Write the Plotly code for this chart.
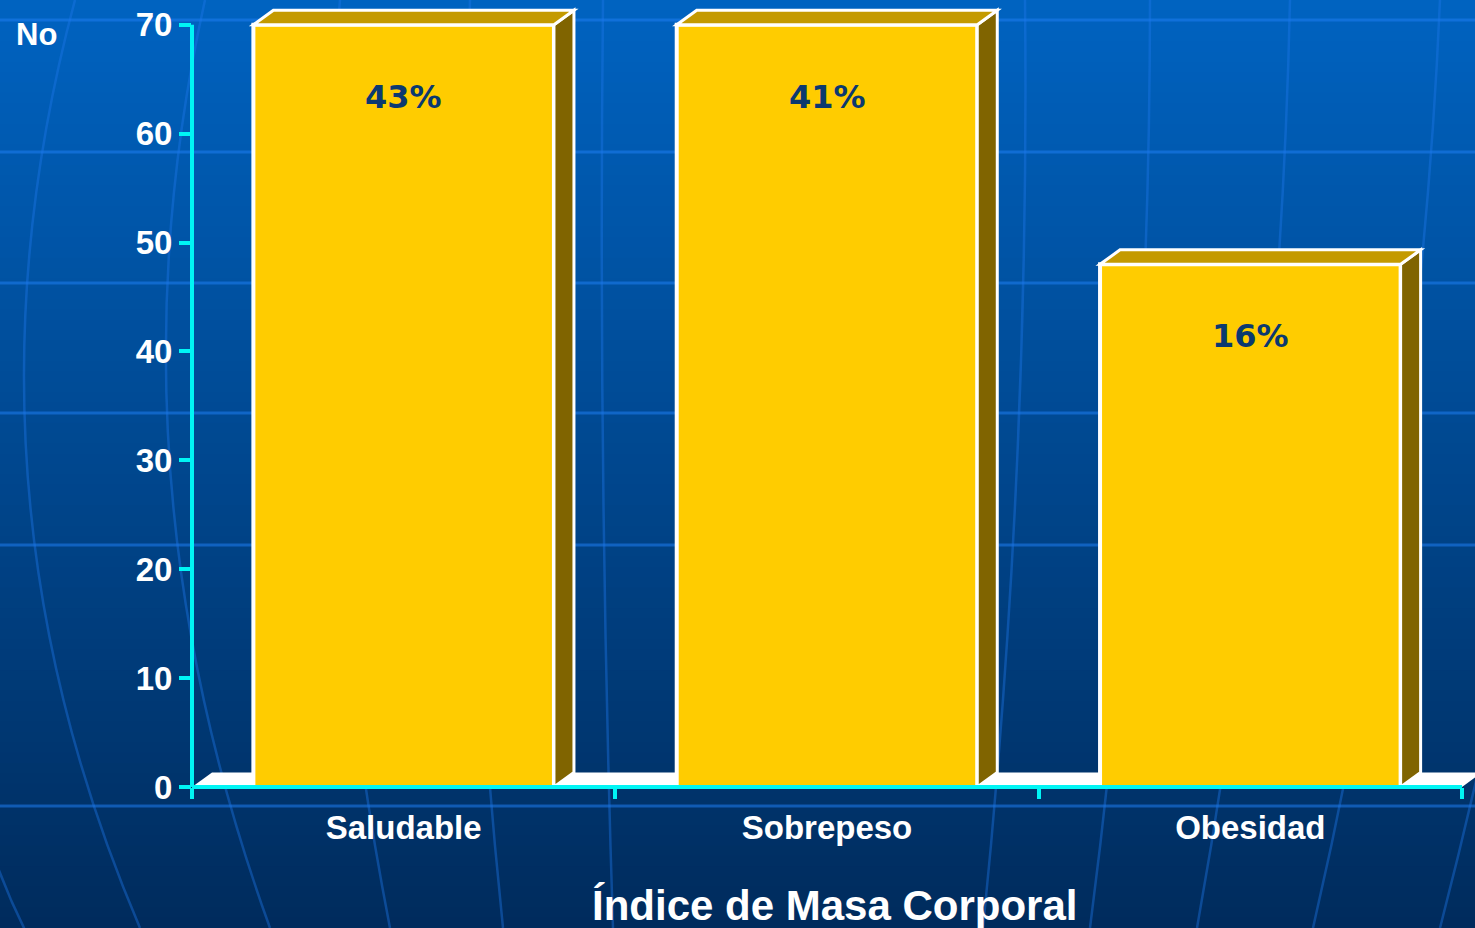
import plotly.graph_objects as go

# ---- data ----
categories = ["Saludable", "Sobrepeso", "Obesidad"]
counts = [70, 70, 48]
percent_labels = ["43%", "41%", "16%"]
y_ticks = [0, 10, 20, 30, 40, 50, 60, 70]
y_axis_title = "No"
x_axis_title = "Índice de Masa Corporal"

# ---- layout geometry (pixels) ----
FIG_W, FIG_H = 1475, 928
M_L, M_R, M_T, M_B = 192, 0, 3, 141
PW = FIG_W - M_L - M_R
PH = FIG_H - M_T - M_B
Y_MAX = 72
X_MIN = -0.5
X_MAX = 2.5 + 13 / (PW / 3.031)
px_per_cat = PW / (X_MAX - X_MIN)
px_per_unit = PH / Y_MAX

BAR_W = 0.71
DEPTH_X = 20 / px_per_cat      # 3D depth offsets in data units
DEPTH_Y = 14.5 / px_per_unit

FRONT = "#FFCC00"
TOPC = "#C49A00"
SIDE = "#806400"
CYAN = "#00F5F5"


def px(x):
    return (x - M_L) / PW


def py(y):
    return (M_T + PH - y) / PH


shapes = []

# background vertical gradient
top_rgb = (0, 99, 193)
bot_rgb = (0, 43, 92)
N = 90
for k in range(N):
    t = (k + 0.5) / N
    c = tuple(int(round(a + (b - a) * t)) for a, b in zip(top_rgb, bot_rgb))
    y0 = FIG_H * k / N
    y1 = FIG_H * (k + 1) / N + 1
    shapes.append(dict(type="rect", xref="paper", yref="paper", layer="below",
                       x0=px(0), x1=px(FIG_W), y0=py(y0), y1=py(y1),
                       fillcolor="rgb(%d,%d,%d)" % c, line=dict(width=0)))

# decorative horizontal lines
for yy in [20, 152, 283, 413, 545, 806]:
    shapes.append(dict(type="line", xref="paper", yref="paper", layer="below",
                       x0=px(0), x1=px(FIG_W), y0=py(yy), y1=py(yy),
                       line=dict(color="rgba(30,125,240,0.55)", width=3)))

# decorative globe meridians (bottom, control, top)
meridians = [
    ((140, 928), (-53, 476), (75, 0)),
    ((270, 928), (102, 464), (205, 0)),
    ((390, 928), (300, 464), (340, 0)),
    ((503, 928), (455, 464), (470, 0)),
    ((613, 928), (598, 464), (603, 0)),
    ((983, 928), (1030, 464), (1025, 0)),
    ((1090, 928), (1150, 464), (1150, 0)),
    ((1197, 928), (1280, 464), (1290, 0)),
    ((1313, 928), (1420, 464), (1440, 0)),
    ((1440, 928), (1560, 464), (1600, 0)),
    ((-10, 845), (5, 890), (25, 930)),
]
for p0, c, p2 in meridians:
    path = "M %f,%f Q %f,%f %f,%f" % (px(p0[0]), py(p0[1]), px(c[0]), py(c[1]),
                                      px(p2[0]), py(p2[1]))
    shapes.append(dict(type="path", xref="paper", yref="paper", layer="below",
                       path=path, line=dict(color="rgba(30,120,235,0.4)", width=2.5)))

# white floor
floor = "M %f,0 L %f,0 L %f,%f L %f,%f Z" % (
    X_MIN, 2.5, 2.5 + DEPTH_X, DEPTH_Y, X_MIN + DEPTH_X, DEPTH_Y)
shapes.append(dict(type="path", xref="x", yref="y", layer="below", path=floor,
                   fillcolor="white", line=dict(width=0)))

# 3D side and top faces of bars
for i, v in enumerate(counts):
    xl = i - BAR_W / 2
    xr = i + BAR_W / 2
    side = "M %f,0 L %f,%f L %f,%f L %f,%f Z" % (
        xr, xr + DEPTH_X, DEPTH_Y, xr + DEPTH_X, v + DEPTH_Y, xr, v)
    top = "M %f,%f L %f,%f L %f,%f L %f,%f Z" % (
        xl, v, xl + DEPTH_X, v + DEPTH_Y, xr + DEPTH_X, v + DEPTH_Y, xr, v)
    shapes.append(dict(type="path", xref="x", yref="y", layer="above", path=side,
                       fillcolor=SIDE, line=dict(color="white", width=3)))
    shapes.append(dict(type="path", xref="x", yref="y", layer="above", path=top,
                       fillcolor=TOPC, line=dict(color="white", width=3)))

# axis lines
shapes.append(dict(type="line", xref="paper", yref="y", layer="above",
                   x0=0, x1=0, y0=0, y1=y_ticks[-1], line=dict(color=CYAN, width=4)))
shapes.append(dict(type="line", xref="x", yref="paper", layer="above",
                   x0=X_MIN, x1=2.5, y0=0, y1=0, line=dict(color=CYAN, width=4)))

fig = go.Figure()
fig.add_trace(go.Bar(
    x=categories, y=counts, width=BAR_W,
    marker=dict(color=FRONT, line=dict(color="white", width=4)),
    hoverinfo="skip", showlegend=False,
))

annotations = []
for cat, v, lab in zip(categories, counts, percent_labels):
    annotations.append(dict(x=cat, y=v, xref="x", yref="y", text=lab, showarrow=False,
                            yshift=-72, yanchor="middle", xanchor="center",
                            font=dict(family="DejaVu Sans", size=32, color="#0B3970",
                                      weight="bold")))
annotations.append(dict(x=px(14), y=py(34), xref="paper", yref="paper", text=y_axis_title,
                        showarrow=False, xanchor="left", yanchor="middle",
                        font=dict(family="Liberation Sans, Arial", size=31, color="white",
                                  weight="bold")))
annotations.append(dict(x=px(835), y=py(905), xref="paper", yref="paper", text=x_axis_title,
                        showarrow=False, xanchor="center", yanchor="middle",
                        font=dict(family="Liberation Sans, Arial", size=42, color="white",
                                  weight="bold")))

fig.update_layout(
    width=FIG_W, height=FIG_H,
    margin=dict(l=M_L, r=M_R, t=M_T, b=M_B, pad=0),
    paper_bgcolor="#00408A", plot_bgcolor="rgba(0,0,0,0)",
    shapes=shapes, annotations=annotations, bargap=0.29,
    xaxis=dict(range=[X_MIN, X_MAX], showgrid=False, zeroline=False, showline=False,
               ticks="outside", tickson="boundaries", ticklen=11, tickwidth=4,
               tickcolor=CYAN, fixedrange=True, ticklabelstandoff=18,
               tickfont=dict(family="Liberation Sans, Arial", size=33, color="white",
                             weight="bold")),
    yaxis=dict(range=[0, Y_MAX], tickvals=y_ticks, showgrid=False, zeroline=False,
               showline=False, ticks="outside", ticklen=12, tickwidth=4, tickcolor=CYAN,
               fixedrange=True,
               tickfont=dict(family="Liberation Sans, Arial", size=33, color="white",
                             weight="bold")),
)

fig.write_html("out.html", config={"displayModeBar": False},
               post_script="document.body.style.margin='0';document.body.style.overflow='hidden';")
